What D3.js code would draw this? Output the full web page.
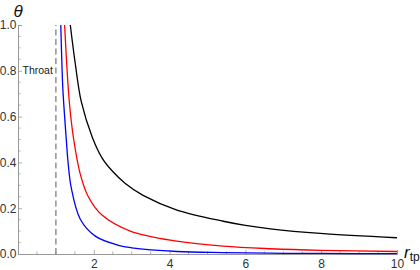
<!DOCTYPE html>
<html>
<head>
<meta charset="utf-8">
<script src="https://cdnjs.cloudflare.com/ajax/libs/d3/7.8.5/d3.min.js"></script>
<style>
  html, body { margin: 0; padding: 0; background: #fff; }
  svg { display: block; font-family: "Liberation Sans", Arial, sans-serif; }
</style>
</head>
<body>
<svg id="chart" width="420" height="270"></svg>
<script>
// r_tp values and theta readings for each curve
const blueR   = [1.129, 1.16, 1.187, 1.274, 1.319, 1.404, 1.644, 2.04, 2.65, 3.0, 4.2, 5.4, 6.66, 8.0, 10];
const blueT   = [1.0, 0.82, 0.71, 0.50, 0.404, 0.29, 0.152, 0.078, 0.038, 0.027, 0.011, 0.006, 0.0035, 0.0023, 0.0014];
const redR    = [1.23, 1.354, 1.47, 1.644, 1.863, 2.216, 2.963, 4.195, 5.417, 6.657, 8.0, 10];
const redT    = [1.0, 0.664, 0.5, 0.348, 0.248, 0.17, 0.10, 0.056, 0.034, 0.023, 0.016, 0.011];
const blackR  = [1.38, 1.512, 1.67, 1.96, 2.216, 2.5, 2.831, 3.3, 4.195, 5.417, 6.0, 6.657, 7.976, 10];
const blackT  = [1.0, 0.83, 0.665, 0.51, 0.42, 0.36, 0.308, 0.256, 0.192, 0.143, 0.125, 0.110, 0.090, 0.071];
const throatR = 1;

const xMajor  = [2, 4, 6, 8, 10];
const yMajor  = [0, 0.2, 0.4, 0.6, 0.8, 1.0];

const series = [
  { name: "black", r: blackR, t: blackT },
  { name: "red",   r: redR,   t: redT },
  { name: "blue",  r: blueR,  t: blueT }
];

/**
 * Scales
 */
const svg = d3.select("#chart");
const x = d3.scaleLinear().domain([0, 10]).range([18, 397]);
const y = d3.scaleLinear().domain([0, 1]).range([254, 25]);

const axisColor = "#999";
const labelColor = "#333";

// clip curves to the plot range
svg.append("defs").append("clipPath").attr("id", "plotClip")
  .append("rect")
  .attr("x", x(0)).attr("y", y(1))
  .attr("width", x(10) - x(0) + 2).attr("height", y(0) - y(1) + 2);

/**
 * Axes (Mathematica style: ticks inside, minor ticks between)
 */
const xAxis = d3.axisBottom(x).tickValues(xMajor).tickSize(-4).tickPadding(7).tickFormat(d3.format("d"));
const yAxis = d3.axisLeft(y).tickValues(yMajor).tickSize(-4).tickPadding(1.5).tickFormat(d3.format(".1f"));

const gx = svg.append("g").attr("transform", `translate(0,${y(0)})`).call(xAxis);
const gy = svg.append("g").attr("transform", `translate(${x(0)},0)`).call(yAxis);

[gx, gy].forEach(g => {
  g.select(".domain").attr("stroke", axisColor).attr("stroke-width", 1);
  g.selectAll(".tick line").attr("stroke", axisColor).attr("stroke-width", 0.8);
  g.selectAll(".tick text").attr("fill", labelColor).attr("font-size", 12)
    .attr("font-family", "Liberation Sans, Arial, sans-serif");
});
gx.selectAll(".tick text").attr("dy", "0.6em");

// minor ticks
const xMinor = d3.range(0.5, 10, 0.5).filter(v => xMajor.indexOf(v) < 0);
const yMinor = d3.range(0.05, 1.0, 0.05).filter(v => yMajor.every(m => Math.abs(m - v) > 1e-6));

svg.append("g").selectAll("line").data(xMinor).join("line")
  .attr("x1", d => x(d)).attr("x2", d => x(d))
  .attr("y1", y(0)).attr("y2", y(0) - 2.5)
  .attr("stroke", axisColor).attr("stroke-width", 0.8);

svg.append("g").selectAll("line").data(yMinor).join("line")
  .attr("x1", x(0)).attr("x2", x(0) + 2.5)
  .attr("y1", d => y(d)).attr("y2", d => y(d))
  .attr("stroke", axisColor).attr("stroke-width", 0.8);

/**
 * Throat line
 */
svg.append("line")
  .attr("x1", x(throatR)).attr("x2", x(throatR))
  .attr("y1", y(0)).attr("y2", y(1))
  .attr("stroke", "#777").attr("stroke-width", 1.2)
  .attr("stroke-dasharray", "6,3.5");

svg.append("text")
  .attr("x", x(throatR) - 3).attr("y", y(0.8) + 3.5)
  .attr("text-anchor", "end")
  .attr("font-size", 10.5)
  .attr("fill", "#222")
  .text("Throat");

/**
 * Curves
 */
const line = d3.line()
  .x(d => x(d[0]))
  .y(d => y(d[1]))
  .curve(d3.curveCatmullRom.alpha(0.5));

svg.append("g").attr("clip-path", "url(#plotClip)")
  .selectAll("path").data(series).join("path")
  .attr("d", s => line(d3.zip(s.r, s.t)))
  .attr("fill", "none")
  .attr("stroke", s => s.name)
  .attr("stroke-width", 1.3);

/**
 * Axis labels
 */
svg.append("text")
  .attr("x", x(0)).attr("y", 17)
  .attr("text-anchor", "middle")
  .attr("font-size", 17)
  .attr("font-style", "italic")
  .attr("fill", "#111")
  .text("θ");

const rLabel = svg.append("text")
  .attr("x", 404).attr("y", 258)
  .attr("font-size", 17)
  .attr("font-style", "italic")
  .attr("fill", "#111");
rLabel.append("tspan").text("r");
rLabel.append("tspan")
  .attr("font-size", 12).attr("font-style", "normal")
  .attr("dy", 3)
  .text("tp");
</script>
</body>
</html>
